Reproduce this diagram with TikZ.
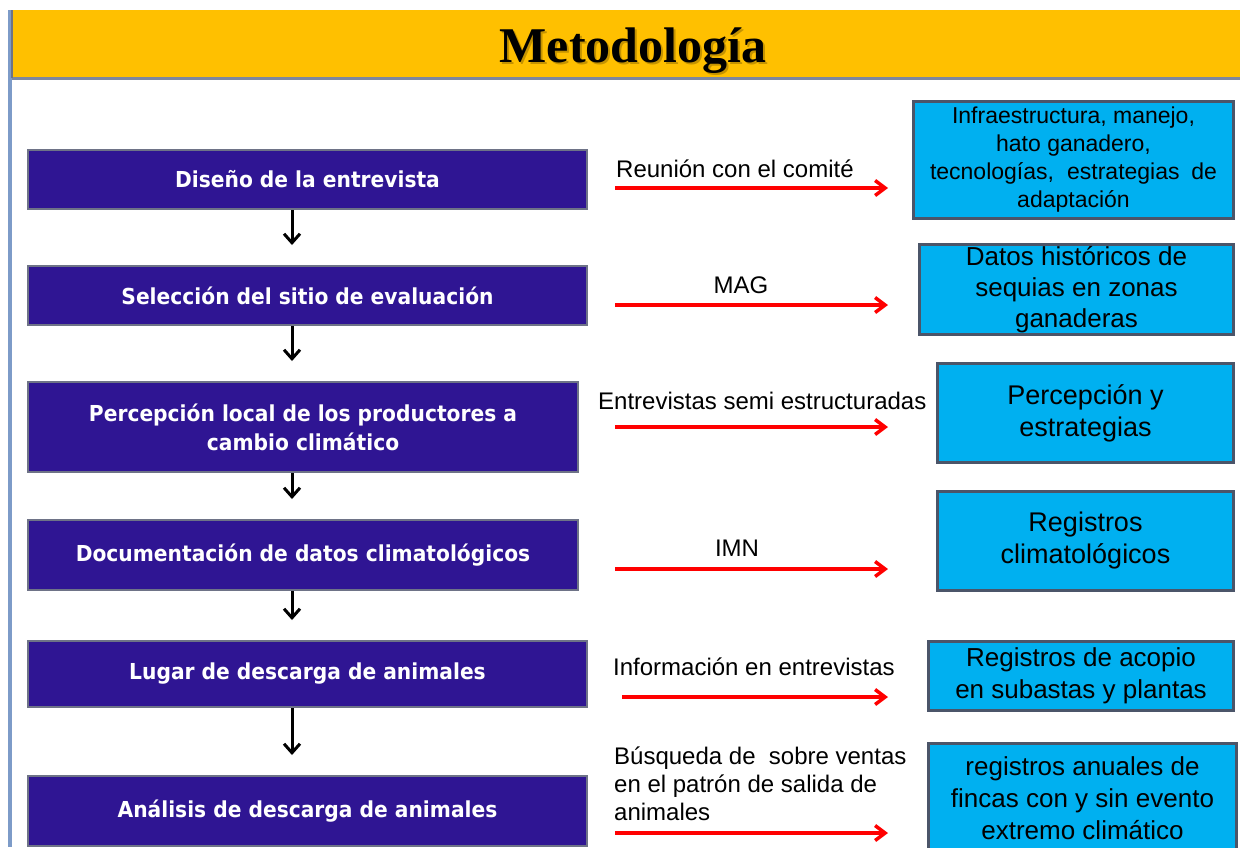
\documentclass[tikz,border=0pt]{standalone}
\usepackage{fontspec}
\setmainfont{Liberation Sans}
\newfontfamily\stepfont[FakeStretch=0.92]{DejaVu Sans}
\newfontfamily\headfont{Liberation Serif}
\usetikzlibrary{arrows.meta}
\definecolor{headyellow}{RGB}{255,192,0}
\definecolor{headshadow}{RGB}{110,80,0}
\definecolor{headline}{RGB}{125,135,160}
\definecolor{pageline}{RGB}{125,155,200}
\definecolor{stepblue}{RGB}{47,21,147}
\definecolor{stepedge}{RGB}{110,115,135}
\definecolor{resultcyan}{RGB}{0,176,240}
\definecolor{resultedge}{RGB}{75,85,105}
\begin{document}
\begin{tikzpicture}[x=1pt,y=-1pt,
    stepbox/.style={anchor=north west,draw=stepedge,line width=2pt,fill=stepblue,text=white,align=center,inner sep=0pt,
        font=\stepfont\bfseries\fontsize{22}{29}\selectfont},
    resultbox/.style={anchor=north west,draw=resultedge,line width=3pt,fill=resultcyan,align=center,inner sep=0pt},
    flow/.style={-{Straight Barb[length=9pt,width=16pt]},line width=3pt,shorten >=20pt},
    link/.style={-{Straight Barb[length=10pt,width=15pt]},red,line width=3.5pt},
    note/.style={font=\fontsize{24}{28}\selectfont,inner sep=0pt}]
                \useasboundingbox (0,0) rectangle (1240,847);
                %% page frame and heading
                \draw[pageline,line width=4pt] (10,10) -- (10,847);
                \node[anchor=north west,fill=headyellow,minimum width=1228pt,minimum height=68pt,inner sep=0pt] (head) at (12,10) {};
                \draw[headline,line width=3pt] (head.south west) -- (head.south east);
                \draw[stepedge,line width=2pt] (head.north west) -- (head.south west);
                \node[anchor=base,font=\headfont\bfseries\fontsize{50}{50}\selectfont,text=headshadow,opacity=0.4] (titleshadow) at (635,64) {Metodología};
                \node[anchor=base,font=\headfont\bfseries\fontsize{50}{50}\selectfont] (title) at (633,62) {Metodología};
                %% steps
                \node[stepbox,minimum width=559pt,minimum height=59pt] (S1) at (27,149) {Diseño de la entrevista};
                \node[stepbox,minimum width=559pt,minimum height=59pt] (S2) at (27,265) {Selección del sitio de evaluación};
                \node[stepbox,minimum width=550pt,minimum height=90pt] (S3) at (27,381) {Percepción local de los productores a\\cambio climático};
                \node[stepbox,minimum width=550pt,minimum height=70pt] (S4) at (27,519) {Documentación de datos climatológicos};
                \node[stepbox,minimum width=559pt,minimum height=66pt] (S5) at (27,640) {Lugar de descarga de animales};
                \node[stepbox,minimum width=559pt,minimum height=70pt] (S6) at (27,775) {Análisis de descarga de animales};
                %% step arrows
                \coordinate (axis) at (292,0);
                \draw[flow] (S1.south -| axis) -- (S2.north -| axis);
                \draw[flow] (S2.south -| axis) -- (S3.north -| axis);
                \draw[flow] (S3.south -| axis) -- (S4.north -| axis);
                \draw[flow] (S4.south -| axis) -- (S5.north -| axis);
                \draw[flow] (S5.south -| axis) -- (S6.north -| axis);
                %% results
                \node[resultbox,minimum width=320pt,minimum height=117pt,font=\fontsize{23}{28}\selectfont] (R1) at (912,100) {Infraestructura, manejo,\\hato ganadero,\\\makebox[287pt][s]{tecnologías, estrategias de}\\adaptación};
                \node[resultbox,minimum width=314pt,minimum height=90pt,font=\fontsize{26}{31}\selectfont] (R2) at (918,243) {Datos históricos de\\sequias en zonas\\ganaderas};
                \node[resultbox,minimum width=296pt,minimum height=99pt,font=\fontsize{27}{32}\selectfont] (R3) at (936,362) {Percepción y\\estrategias};
                \node[resultbox,minimum width=296pt,minimum height=99pt,font=\fontsize{27}{32}\selectfont] (R4) at (936,490) {Registros\\climatológicos};
                \node[resultbox,minimum width=305pt,minimum height=69pt,font=\fontsize{26}{32}\selectfont] (R5) at (927,640) {Registros de acopio\\en subastas y plantas};
                \node[resultbox,minimum width=308pt,minimum height=110pt,font=\fontsize{26}{32}\selectfont] (R6) at (927,742) {registros anuales de\\fincas con y sin evento\\extremo climático};
                %% sources
                \coordinate (a1) at (615,188); \coordinate (b1) at (888,188);
                \coordinate (a2) at (615,305); \coordinate (b2) at (888,305);
                \coordinate (a3) at (615,427); \coordinate (b3) at (888,427);
                \coordinate (a4) at (615,569); \coordinate (b4) at (888,569);
                \coordinate (a5) at (622,697); \coordinate (b5) at (888,697);
                \coordinate (a6) at (615,833); \coordinate (b6) at (888,833);
                \draw[link] (a1) -- (b1);
                \draw[link] (a2) -- (b2);
                \draw[link] (a3) -- (b3);
                \draw[link] (a4) -- (b4);
                \draw[link] (a5) -- (b5);
                \draw[link] (a6) -- (b6);
                \node[note,anchor=base west] (N1) at (616,177) {Reunión con el comité};
                \node[note,anchor=base] (N2) at (741,293) {MAG};
                \node[note,anchor=base west] (N3) at (598,409) {Entrevistas semi estructuradas};
                \node[note,anchor=base] (N4) at (737,556) {IMN};
                \node[note,anchor=base west] (N5) at (613,675) {Información en entrevistas};
                \node[note,anchor=north west,align=left] (N6) at (614,747) {Búsqueda de\ \ sobre ventas\\en el patrón de salida de\\animales};
            \end{tikzpicture}
\end{document}
